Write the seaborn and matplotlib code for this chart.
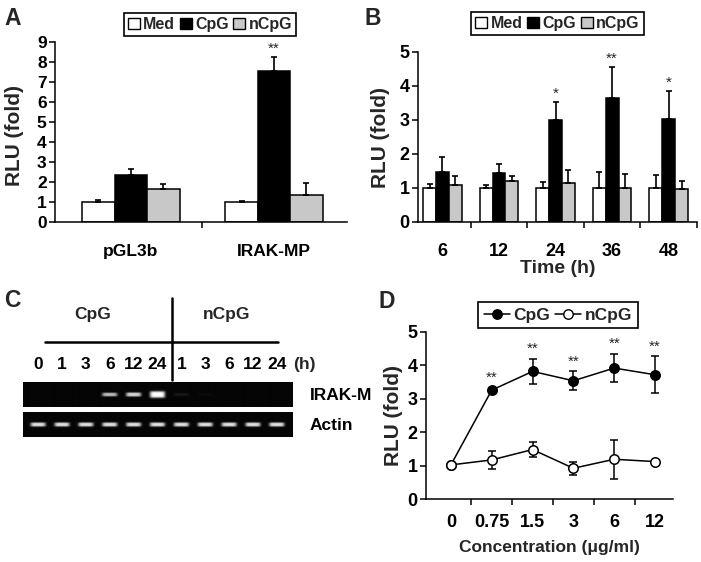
import numpy as np
import pandas as pd
import matplotlib
matplotlib.use("Agg")
import matplotlib.pyplot as plt
from matplotlib.patches import Patch
from matplotlib.lines import Line2D
import seaborn as sns

# ---------------- data ----------------
conditions = ["Med", "CpG", "nCpG"]
cond_colors = ["white", "black", "#c8c8c8"]

# Panel A
a_constructs = ["pGL3b", "IRAK-MP"]
a_med = [1.02, 1.00]
a_med_err = [0.08, 0.03]
a_cpg = [2.35, 7.56]
a_cpg_err = [0.32, 0.67]
a_ncpg = [1.65, 1.37]
a_ncpg_err = [0.27, 0.59]
a_stars = ["", "**"]

# Panel B
b_times = ["6", "12", "24", "36", "48"]
b_med = [1.00, 1.00, 1.00, 1.00, 1.00]
b_med_err = [0.12, 0.09, 0.17, 0.46, 0.38]
b_cpg = [1.46, 1.43, 3.00, 3.65, 3.04]
b_cpg_err = [0.45, 0.29, 0.54, 0.91, 0.81]
b_ncpg = [1.08, 1.21, 1.16, 1.00, 0.97]
b_ncpg_err = [0.28, 0.13, 0.36, 0.40, 0.24]
b_stars = ["", "", "*", "**", "*"]

# Panel C (gel band intensities)
c_lanes = ["0", "1", "3", "6", "12", "24", "1", "3", "6", "12", "24"]
c_irakm = [0.0, 0.0, 0.0, 0.72, 0.82, 1.0, 0.08, 0.03, 0.0, 0.0, 0.0]
c_irakm_thick = [1.0, 1.0, 1.0, 0.9, 1.0, 1.6, 0.7, 0.6, 1.0, 1.0, 1.0]
c_actin = [0.86, 0.86, 0.86, 0.86, 0.86, 0.87, 0.86, 0.86, 0.86, 0.86, 0.86]
c_actin_thick = [1.0, 1.0, 1.0, 1.0, 1.0, 1.0, 1.0, 1.0, 1.0, 1.0, 1.0]

# Panel D
d_conc = ["0", "0.75", "1.5", "3", "6", "12"]
d_cpg = [1.02, 3.26, 3.82, 3.54, 3.92, 3.72]
d_cpg_err = [0.0, 0.07, 0.38, 0.29, 0.43, 0.56]
d_ncpg = [1.02, 1.17, 1.48, 0.92, 1.19, 1.12]
d_ncpg_err = [0.0, 0.26, 0.22, 0.19, 0.58, 0.0]
d_stars = ["", "**", "**", "**", "**", "**"]

# ---------------- style ----------------
sns.set_style("ticks")
plt.rcParams["font.family"] = ["Liberation Sans", "DejaVu Sans"]
plt.rcParams["font.weight"] = "bold"
plt.rcParams["axes.labelweight"] = "bold"
plt.rcParams["axes.linewidth"] = 1.1
plt.rcParams["axes.edgecolor"] = "black"
plt.rcParams["xtick.color"] = "black"
plt.rcParams["ytick.color"] = "black"

W, H = 701, 562
fig = plt.figure(figsize=(W / 100, H / 100), dpi=100)


def frect(x0, y0, x1, y1):
    return [x0 / W, 1 - y1 / H, (x1 - x0) / W, (y1 - y0) / H]


def style_axes(ax, ylim, yticks, xlim, boundaries, tick_fs, xpad):
    sns.despine(ax=ax)
    ax.set_ylim(*ylim)
    ax.set_yticks(yticks)
    ax.set_xlim(*xlim)
    ax.set_xticks(boundaries, minor=True)
    ax.tick_params(axis="y", direction="out", length=4, width=1.1, pad=2, labelsize=tick_fs)
    ax.tick_params(axis="x", which="major", length=0, pad=xpad, labelsize=tick_fs)
    ax.tick_params(axis="x", which="minor", direction="out", length=4, width=1.1)
    for lab in ax.get_xticklabels() + ax.get_yticklabels():
        lab.set_fontweight("bold")


def bar_panel(ax, cats, means, errs, stars, width=0.68):
    rows = []
    for cond, vals in zip(conditions, means):
        for c, v in zip(cats, vals):
            rows.append({"cat": c, "cond": cond, "val": v})
    df = pd.DataFrame(rows)
    sns.barplot(data=df, x="cat", y="val", hue="cond", order=cats,
                hue_order=conditions, palette=dict(zip(conditions, cond_colors)),
                edgecolor="black", linewidth=1.1, width=width, errorbar=None,
                saturation=1, legend=False, ax=ax, zorder=2)
    n = len(conditions)
    bw = width / n
    base = np.arange(len(cats))
    for j, (vals, ee) in enumerate(zip(means, errs)):
        xs = base + (j - (n - 1) / 2) * bw
        ax.errorbar(xs, vals, yerr=[np.zeros(len(vals)), ee], fmt="none",
                    ecolor="black", elinewidth=1.2, capsize=2.2, capthick=1.2, zorder=3)
    j = conditions.index("CpG")
    xs = base + (j - (n - 1) / 2) * bw
    for x, v, e, s in zip(xs, means[j], errs[j], stars):
        if s:
            ax.annotate(s, (x, v + e), xytext=(0, 6), textcoords="offset points",
                        ha="center", va="center", fontsize=11, fontweight="normal")
    ax.set_xlabel("")


def cond_legend(ax, center):
    handles = [Patch(facecolor=c, edgecolor="black", linewidth=1.0, label=l)
               for c, l in zip(cond_colors, conditions)]
    leg = ax.legend(handles=handles, loc="center", bbox_to_anchor=center,
                    bbox_transform=fig.transFigure, ncol=3, frameon=True,
                    fancybox=False, edgecolor="black", framealpha=1,
                    handlelength=0.75, handleheight=0.75, handletextpad=0.2,
                    columnspacing=0.3, borderpad=0.25, borderaxespad=0,
                    prop={"weight": "bold", "size": 11.5})
    leg.get_frame().set_linewidth(1.2)


# ---------------- Panel A ----------------
axA = fig.add_axes(frect(55, 42, 347, 222))
bar_panel(axA, a_constructs, [a_med, a_cpg, a_ncpg], [a_med_err, a_cpg_err, a_ncpg_err], a_stars)
style_axes(axA, (0, 9), range(0, 10), (-0.53, 1.51), [0.5], 12.5, 16)
axA.set_ylabel("RLU (fold)", fontsize=15, fontweight="bold")
axA.yaxis.set_label_coords(-0.105, 0.48)
cond_legend(axA, (210 / W, 1 - 24.5 / H))

# ---------------- Panel B ----------------
axB = fig.add_axes(frect(418, 52, 697, 222))
bar_panel(axB, b_times, [b_med, b_cpg, b_ncpg], [b_med_err, b_cpg_err, b_ncpg_err], b_stars)
style_axes(axB, (0, 5), range(0, 6), (-0.43, 4.5), [0.5, 1.5, 2.5, 3.5, 4.5], 13, 15)
axB.set_ylabel("RLU (fold)", fontsize=15, fontweight="bold")
axB.yaxis.set_label_coords(-0.10, 0.5)
axB.set_xlabel("Time (h)", fontsize=14, fontweight="bold", labelpad=0)
cond_legend(axB, (557.5 / W, 1 - 23.5 / H))

# ---------------- Panel C ----------------
gx0, gx1 = 23, 293
lane_lim = (-0.63, 10.67)


def gel_image(intens, thick):
    xs = np.linspace(lane_lim[0], lane_lim[1], 800)
    ys = np.linspace(-0.5, 0.5, 100)
    X, Y = np.meshgrid(xs, ys)
    img = np.full_like(X, 0.02)
    for i, (v, t) in enumerate(zip(intens, thick)):
        img += v * np.exp(-((X - i) / 0.32) ** 6) * np.exp(-(Y / (0.085 * t)) ** 4)
    return np.clip(img, 0, 1)


def gel_axes(rect, intens, thick, label):
    ax = fig.add_axes(rect)
    ax.imshow(gel_image(intens, thick), cmap="gray", vmin=0, vmax=1,
              extent=[lane_lim[0], lane_lim[1], -0.5, 0.5], aspect="auto",
              origin="lower", interpolation="bilinear")
    ax.set_xlim(*lane_lim)
    ax.set_ylim(-0.5, 0.5)
    for sp in ax.spines.values():
        sp.set_visible(False)
    ax.yaxis.tick_right()
    ax.set_yticks([0])
    ax.set_yticklabels([label], fontsize=12.5, fontweight="bold")
    ax.tick_params(axis="y", length=0, pad=12)
    ax.set_xticks([])
    return ax


axC1 = gel_axes(frect(gx0, 382, gx1, 407), c_irakm, c_irakm_thick, "IRAK-M")
axC2 = gel_axes(frect(gx0, 412, gx1, 437), c_actin, c_actin_thick, "Actin")
axC1.xaxis.tick_top()
axC1.set_xticks(range(len(c_lanes)))
axC1.set_xticklabels(c_lanes, fontsize=12.5, fontweight="bold")
axC1.tick_params(axis="x", length=0, pad=7)
axC1.annotate("(h)", (11.15, 1), xycoords=("data", "axes fraction"), xytext=(0, 7),
              textcoords="offset points", ha="center", va="bottom",
              fontsize=12.5, fontweight="bold", annotation_clip=False)
tr = axC1.get_xaxis_transform()
axC1.plot([0.29, 10.04], [2.6, 2.6], transform=tr, clip_on=False, color="black", lw=1.8)
axC1.plot([5.6, 5.6], [1.08, 4.36], transform=tr, clip_on=False, color="black", lw=1.8)
axC1.text(2.3, 3.68, "CpG", transform=tr, ha="center", va="center", fontsize=12.5, fontweight="bold")
axC1.text(7.9, 3.68, "nCpG", transform=tr, ha="center", va="center", fontsize=12.5, fontweight="bold")

# ---------------- Panel D ----------------
axD = fig.add_axes(frect(426, 332, 673, 499))
d_x = np.arange(len(d_conc))
axD.errorbar(d_x, d_cpg, yerr=d_cpg_err, fmt="none", ecolor="black", elinewidth=1.1,
             capsize=3, capthick=1.1, zorder=1.5)
axD.errorbar(d_x, d_ncpg, yerr=d_ncpg_err, fmt="none", ecolor="black", elinewidth=1.1,
             capsize=3, capthick=1.1, zorder=1.5)
sns.lineplot(x=d_x, y=d_cpg, color="black", marker="o", markersize=6.8,
             markerfacecolor="black", markeredgecolor="black", markeredgewidth=1.1,
             linewidth=1.1, ax=axD, zorder=3)
sns.lineplot(x=d_x, y=d_ncpg, color="black", marker="o", markersize=6.8,
             markerfacecolor="white", markeredgecolor="black", markeredgewidth=1.1,
             linewidth=1.1, ax=axD, zorder=3)
for x, v, e, s in zip(d_x, d_cpg, d_cpg_err, d_stars):
    if s:
        axD.annotate(s, (x, v + e), xytext=(0, 7), textcoords="offset points",
                     ha="center", va="center", fontsize=11, fontweight="normal")
axD.set_xticks(d_x)
axD.set_xticklabels(d_conc)
style_axes(axD, (0, 5), range(0, 6), (-0.61, 5.44), [0.5, 1.5, 2.5, 3.5, 4.5], 13, 11)
axD.set_ylabel("RLU (fold)", fontsize=15, fontweight="bold")
axD.yaxis.set_label_coords(-0.093, 0.5)
axD.set_xlabel("Concentration (\u03bcg/ml)", fontsize=12.5, fontweight="bold", labelpad=6)
d_handles = [Line2D([], [], color="black", marker="o", markersize=6.8, lw=1.1,
                    markerfacecolor=fc, markeredgecolor="black", label=l)
             for fc, l in zip(["black", "white"], ["CpG", "nCpG"])]
legD = axD.legend(handles=d_handles, loc="center", bbox_to_anchor=(558 / W, 1 - 315 / H),
                  bbox_transform=fig.transFigure, ncol=2, frameon=True, fancybox=False,
                  edgecolor="black", framealpha=1, handlelength=1.5, handletextpad=0.2,
                  columnspacing=0.3, borderpad=0.3, borderaxespad=0,
                  prop={"weight": "bold", "size": 12.5})
legD.get_frame().set_linewidth(1.2)

# ---------------- panel letters ----------------
for letter, (px, py) in zip("ABCD", [(4, 7), (364, 7), (4, 289), (379, 290)]):
    fig.text(px / W, 1 - py / H, letter, fontsize=16.5, fontweight="bold", ha="left", va="top")

fig.savefig("out.png", dpi=100, facecolor="white")
